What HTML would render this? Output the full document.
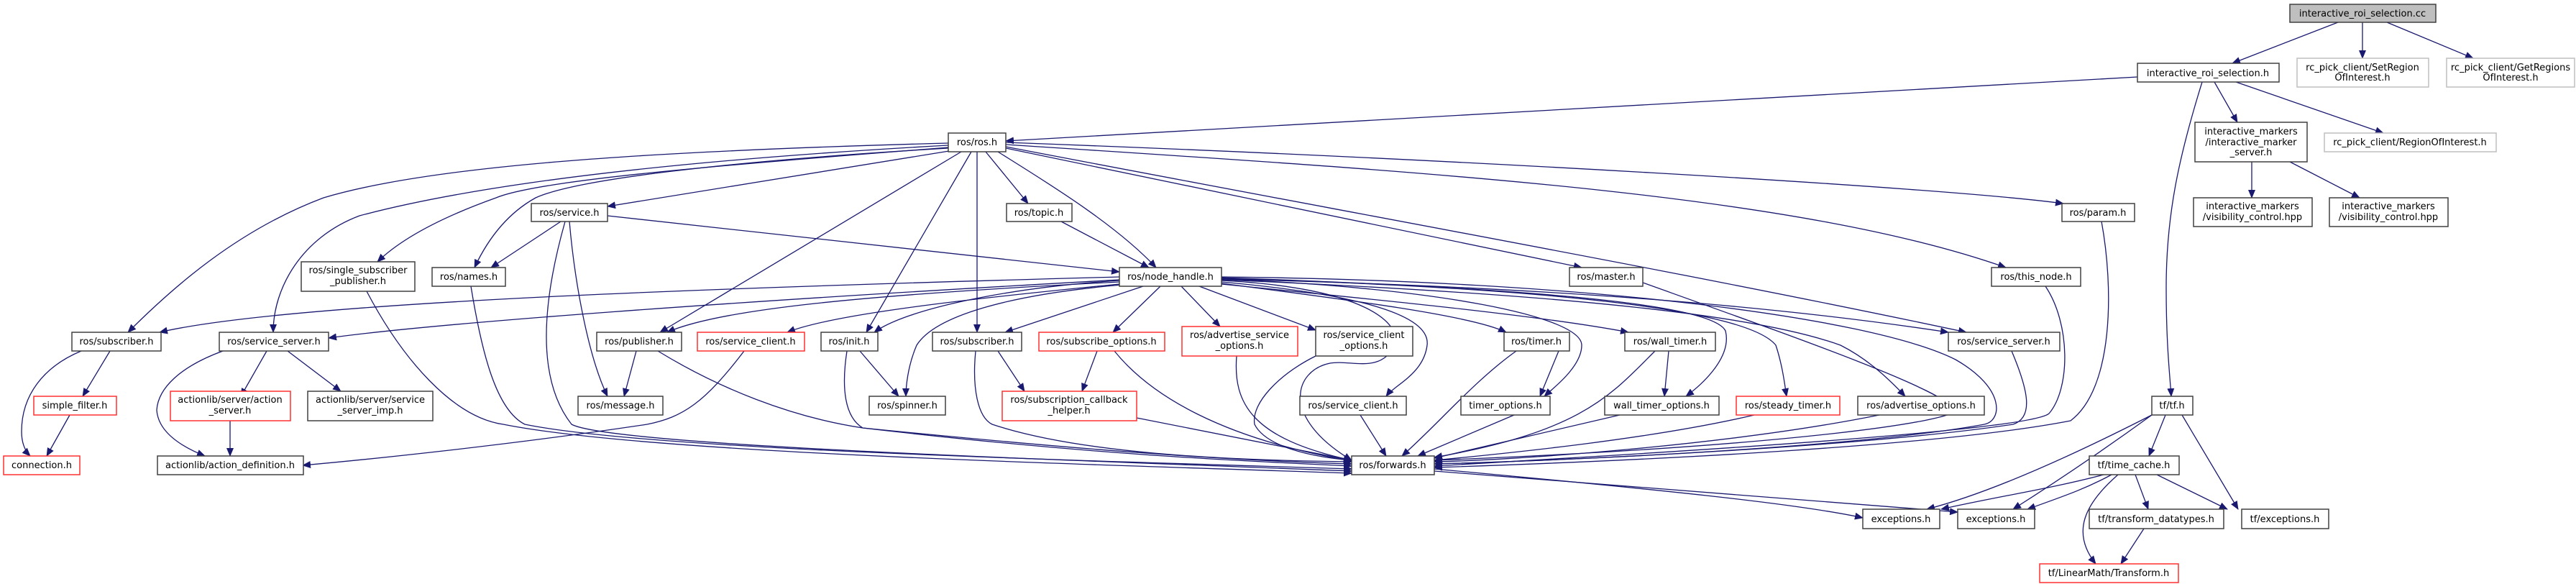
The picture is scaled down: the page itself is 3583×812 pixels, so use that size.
<!DOCTYPE html>
<html><head><meta charset="utf-8"><style>
html,body{margin:0;padding:0;background:#fff;}
svg{display:block;}
text{font-family:"DejaVu Sans","Liberation Sans",sans-serif;font-size:13px;fill:#000;text-anchor:middle;}
.e{fill:none;stroke:#191970;stroke-width:1.3;marker-end:url(#a);}
.n{fill:#fff;stroke:#404040;stroke-width:1.5;}
.r{fill:#fff;stroke:#ff3030;stroke-width:1.5;}
.g{fill:#fff;stroke:#bfbfbf;stroke-width:1.5;}
</style></head><body>
<svg width="3583" height="812" viewBox="0 0 3583 812" xmlns="http://www.w3.org/2000/svg">
<defs><marker id="a" markerWidth="12" markerHeight="10" refX="11" refY="5" orient="auto" markerUnits="userSpaceOnUse"><path d="M0,0 L12,5 L0,10 z" fill="#191970"/></marker></defs>
<g>
<!-- cc -->
<path class="e" d="M3252,31 L3105,88"/>
<path class="e" d="M3286,31 L3286,81"/>
<path class="e" d="M3320,31 L3440,81"/>
<!-- iros.h -->
<path class="e" d="M2973,107 L1399,196"/>
<path class="e" d="M3080,114 L3112,170"/>
<path class="e" d="M3110,114 L3315,185"/>
<path class="e" d="M3063,114 C3030,220 3013,300 3013,400 C3013,480 3018,520 3020,551"/>
<path class="e" d="M3132,225 L3132,275"/>
<path class="e" d="M3185,225 L3282,275"/>
<!-- ros.h -->
<path class="e" d="M1319,199 C900,210 600,230 450,275 C330,320 240,400 178,462"/>
<path class="e" d="M1319,202 C900,225 650,260 500,300 C420,330 380,400 380,462"/>
<path class="e" d="M1319,205 C1000,230 750,250 690,275 C620,300 560,330 525,364"/>
<path class="e" d="M1319,206 C1000,225 800,250 745,275 C700,300 675,340 660,372"/>
<path class="e" d="M1320,210 L845,287"/>
<path class="e" d="M1337,211 L918,462"/>
<path class="e" d="M1351,211 L1205,462"/>
<path class="e" d="M1359,211 L1359,462"/>
<path class="e" d="M1371,211 L1430,283"/>
<path class="e" d="M1388,211 C1450,250 1550,310 1608,372"/>
<path class="e" d="M1399,206 L2200,372"/>
<path class="e" d="M1399,198 C2000,220 2700,260 2870,283"/>
<path class="e" d="M1399,201 C2000,240 2500,270 2790,372"/>
<path class="e" d="M1399,204 C1900,300 2350,380 2735,462"/>
<!-- service.h -->
<path class="e" d="M780,308 L683,372"/>
<path class="e" d="M792,308 C800,400 820,500 845,551"/>
<path class="e" d="M845,300 L1557,378"/>
<path class="e" d="M786,308 C760,400 740,520 795,590 C850,620 1500,640 1880,655"/>
<path class="e" d="M1476,308 L1598,372"/>
<!-- node_handle -->
<path class="e" d="M1557,385 C1000,400 400,420 222,462"/>
<path class="e" d="M1557,389 C1000,420 600,450 457,470"/>
<path class="e" d="M1557,392 C1200,410 1000,430 928,462"/>
<path class="e" d="M1557,395 C1300,420 1150,440 1095,462"/>
<path class="e" d="M1557,390 C1400,400 1260,430 1216,462"/>
<path class="e" d="M1560,396 C1400,410 1300,440 1275,480 C1262,510 1260,540 1260,551"/>
<path class="e" d="M1590,398 L1398,462"/>
<path class="e" d="M1614,398 L1548,462"/>
<path class="e" d="M1643,398 L1697,454"/>
<path class="e" d="M1668,398 L1830,459"/>
<path class="e" d="M1699,392 C1900,410 1990,440 1985,480 C1980,520 1940,535 1928,551"/>
<path class="e" d="M1699,390 C1900,400 1950,450 1940,480 C1920,520 1880,500 1850,505 C1800,515 1780,580 1880,640"/>
<path class="e" d="M1699,394 C1900,420 2050,440 2095,462"/>
<path class="e" d="M1699,388 C2000,400 2200,440 2200,480 C2200,510 2160,540 2148,551"/>
<path class="e" d="M1699,395 C1950,420 2150,440 2265,462"/>
<path class="e" d="M1699,386 C2100,400 2380,420 2400,460 C2410,500 2360,540 2345,551"/>
<path class="e" d="M1699,387 C2150,400 2430,430 2470,480 C2480,510 2483,540 2485,551"/>
<path class="e" d="M1699,389 C2200,410 2450,440 2560,480 C2600,500 2630,530 2650,551"/>
<path class="e" d="M1699,388 C2200,400 2500,430 2710,462"/>
<path class="e" d="M1699,385 C2200,390 2600,440 2720,500 C2790,540 2785,585 2760,590 C2600,620 2200,640 1995,645"/>
<!-- to forwards -->
<path class="e" d="M510,405 C560,500 630,580 700,590 C900,630 1500,645 1880,658"/>
<path class="e" d="M655,398 C670,490 690,570 730,590 C900,625 1500,640 1880,652"/>
<path class="e" d="M915,488 C1000,540 1100,580 1200,595 C1500,630 1700,640 1880,648"/>
<path class="e" d="M1178,488 C1170,540 1175,580 1200,595 C1500,625 1700,640 1880,645"/>
<path class="e" d="M1357,488 C1352,540 1360,580 1380,590 C1500,630 1700,640 1880,642"/>
<path class="e" d="M1550,488 C1600,550 1700,610 1880,641"/>
<path class="e" d="M1581,581 L1880,640"/>
<path class="e" d="M1720,495 C1715,560 1740,610 1880,640"/>
<path class="e" d="M1830,495 C1780,520 1740,560 1745,590 C1760,620 1820,635 1880,640"/>
<path class="e" d="M1892,577 L1928,634"/>
<path class="e" d="M2109,488 C2050,530 2000,590 1950,634"/>
<path class="e" d="M2106,577 L1972,634"/>
<path class="e" d="M2302,488 C2240,550 2200,600 1995,636"/>
<path class="e" d="M2253,577 L1995,637"/>
<path class="e" d="M2440,577 C2300,610 2100,630 1995,640"/>
<path class="e" d="M2614,577 C2400,620 2100,640 1995,642"/>
<path class="e" d="M2798,488 C2820,540 2830,580 2800,590 C2600,620 2200,640 1995,645"/>
<path class="e" d="M2845,398 C2880,450 2880,540 2850,575 C2820,600 2300,630 1995,648"/>
<path class="e" d="M2923,308 C2940,400 2940,540 2880,585 C2700,620 2300,640 1995,650"/>
<path class="e" d="M2285,393 C2500,470 2700,540 2720,570 C2720,585 2500,620 1995,640"/>
<path class="e" d="M1995,652 C2300,680 2500,700 2591,720"/>
<path class="e" d="M1995,655 C2300,680 2550,700 2723,712"/>
<!-- left -->
<path class="e" d="M1035,488 C980,560 950,580 900,590 C700,620 500,640 421,647"/>
<path class="e" d="M113,488 C60,510 30,550 30,600 C30,620 38,630 42,634"/>
<path class="e" d="M153,488 L115,551"/>
<path class="e" d="M97,577 L65,634"/>
<path class="e" d="M310,488 C250,510 220,540 218,570 C220,600 250,620 285,634"/>
<path class="e" d="M371,488 L335,551"/>
<path class="e" d="M400,488 L474,544"/>
<path class="e" d="M320,585 L320,634"/>
<path class="e" d="M885,488 L868,551"/>
<path class="e" d="M1196,488 L1250,551"/>
<path class="e" d="M1388,488 L1425,544"/>
<path class="e" d="M1526,488 L1505,544"/>
<path class="e" d="M2168,488 L2142,551"/>
<path class="e" d="M2321,488 L2315,551"/>
<!-- tf -->
<path class="e" d="M2993,577 C2850,650 2750,690 2680,708"/>
<path class="e" d="M2993,577 C2920,630 2860,670 2800,708"/>
<path class="e" d="M3012,577 L2989,634"/>
<path class="e" d="M3035,577 L3113,708"/>
<path class="e" d="M2926,660 C2850,680 2780,690 2700,708"/>
<path class="e" d="M2937,660 C2900,680 2870,690 2820,708"/>
<path class="e" d="M2946,660 C2900,700 2880,740 2915,784"/>
<path class="e" d="M2970,660 L2988,708"/>
<path class="e" d="M3000,660 L3098,708"/>
<path class="e" d="M2982,735 L2950,784"/>
</g>
<g>
<rect x="3185" y="6" width="203" height="25" fill="#bfbfbf" stroke="#404040" stroke-width="1.5"/><text x="3286" y="23">interactive_roi_selection.cc</text>
<rect class="n" x="2973" y="88" width="197" height="26"/><text x="3071" y="106">interactive_roi_selection.h</text>
<rect class="g" x="3195" y="81" width="183" height="40"/><text x="3286" y="98">rc_pick_client/SetRegion</text><text x="3286" y="112">OfInterest.h</text>
<rect class="g" x="3403" y="81" width="178" height="40"/><text x="3492" y="98">rc_pick_client/GetRegions</text><text x="3492" y="112">OfInterest.h</text>
<rect class="n" x="3053" y="170" width="156" height="55"/><text x="3131" y="187">interactive_markers</text><text x="3131" y="202">/interactive_marker</text><text x="3131" y="216">_server.h</text>
<rect class="g" x="3233" y="185" width="239" height="26"/><text x="3352" y="202">rc_pick_client/RegionOfInterest.h</text>
<rect class="n" x="3051" y="275" width="165" height="40"/><text x="3133" y="291">interactive_markers</text><text x="3133" y="306">/visibility_control.hpp</text>
<rect class="n" x="3240" y="275" width="165" height="40"/><text x="3322" y="291">interactive_markers</text><text x="3322" y="306">/visibility_control.hpp</text>
<rect class="n" x="1319" y="185" width="80" height="26"/><text x="1359" y="202">ros/ros.h</text>
<rect class="n" x="1400" y="283" width="91" height="25"/><text x="1445" y="300">ros/topic.h</text>
<rect class="n" x="739" y="283" width="106" height="25"/><text x="792" y="300">ros/service.h</text>
<rect class="n" x="2868" y="283" width="101" height="25"/><text x="2918" y="300">ros/param.h</text>
<rect class="n" x="419" y="364" width="158" height="41"/><text x="498" y="380">ros/single_subscriber</text><text x="498" y="395">_publisher.h</text>
<rect class="n" x="601" y="372" width="102" height="26"/><text x="652" y="389">ros/names.h</text>
<rect class="n" x="1557" y="372" width="142" height="26"/><text x="1628" y="389">ros/node_handle.h</text>
<rect class="n" x="2183" y="372" width="102" height="26"/><text x="2234" y="389">ros/master.h</text>
<rect class="n" x="2770" y="372" width="124" height="26"/><text x="2832" y="389">ros/this_node.h</text>
<rect class="n" x="100" y="462" width="124" height="26"/><text x="162" y="479">ros/subscriber.h</text>
<rect class="n" x="305" y="462" width="152" height="26"/><text x="381" y="479">ros/service_server.h</text>
<rect class="n" x="830" y="462" width="118" height="26"/><text x="889" y="479">ros/publisher.h</text>
<rect class="r" x="970" y="462" width="149" height="26"/><text x="1044" y="479">ros/service_client.h</text>
<rect class="n" x="1142" y="462" width="79" height="26"/><text x="1181" y="479">ros/init.h</text>
<rect class="n" x="1297" y="462" width="124" height="26"/><text x="1359" y="479">ros/subscriber.h</text>
<rect class="r" x="1445" y="462" width="175" height="26"/><text x="1532" y="479">ros/subscribe_options.h</text>
<rect class="r" x="1644" y="454" width="161" height="41"/><text x="1724" y="470">ros/advertise_service</text><text x="1724" y="485">_options.h</text>
<rect class="n" x="1830" y="454" width="135" height="41"/><text x="1897" y="470">ros/service_client</text><text x="1897" y="485">_options.h</text>
<rect class="n" x="2092" y="462" width="91" height="26"/><text x="2137" y="479">ros/timer.h</text>
<rect class="n" x="2260" y="462" width="126" height="26"/><text x="2323" y="479">ros/wall_timer.h</text>
<rect class="n" x="2710" y="462" width="155" height="26"/><text x="2787" y="479">ros/service_server.h</text>
<rect class="r" x="47" y="551" width="115" height="26"/><text x="104" y="568">simple_filter.h</text>
<rect class="r" x="237" y="544" width="167" height="41"/><text x="320" y="560">actionlib/server/action</text><text x="320" y="575">_server.h</text>
<rect class="n" x="428" y="544" width="174" height="41"/><text x="515" y="560">actionlib/server/service</text><text x="515" y="575">_server_imp.h</text>
<rect class="n" x="804" y="551" width="118" height="26"/><text x="863" y="568">ros/message.h</text>
<rect class="n" x="1209" y="551" width="106" height="26"/><text x="1262" y="568">ros/spinner.h</text>
<rect class="r" x="1394" y="544" width="187" height="41"/><text x="1487" y="560">ros/subscription_callback</text><text x="1487" y="575">_helper.h</text>
<rect class="n" x="1808" y="551" width="148" height="26"/><text x="1882" y="568">ros/service_client.h</text>
<rect class="n" x="2032" y="551" width="124" height="26"/><text x="2094" y="568">timer_options.h</text>
<rect class="n" x="2232" y="551" width="159" height="26"/><text x="2311" y="568">wall_timer_options.h</text>
<rect class="r" x="2415" y="551" width="144" height="26"/><text x="2487" y="568">ros/steady_timer.h</text>
<rect class="n" x="2584" y="551" width="176" height="26"/><text x="2672" y="568">ros/advertise_options.h</text>
<rect class="n" x="2993" y="551" width="57" height="26"/><text x="3021" y="568">tf/tf.h</text>
<rect class="r" x="5" y="634" width="106" height="26"/><text x="58" y="651">connection.h</text>
<rect class="n" x="219" y="634" width="203" height="26"/><text x="320" y="651">actionlib/action_definition.h</text>
<rect class="n" x="1880" y="634" width="115" height="26"/><text x="1937" y="651">ros/forwards.h</text>
<rect class="n" x="2906" y="634" width="125" height="26"/><text x="2968" y="651">tf/time_cache.h</text>
<rect class="n" x="2591" y="708" width="107" height="27"/><text x="2644" y="726">exceptions.h</text>
<rect class="n" x="2723" y="708" width="107" height="27"/><text x="2776" y="726">exceptions.h</text>
<rect class="n" x="2906" y="708" width="187" height="27"/><text x="2999" y="726">tf/transform_datatypes.h</text>
<rect class="n" x="3118" y="708" width="121" height="27"/><text x="3178" y="726">tf/exceptions.h</text>
<rect class="r" x="2837" y="784" width="193" height="26"/><text x="2933" y="801">tf/LinearMath/Transform.h</text>
</g>
</svg>
</body></html>
